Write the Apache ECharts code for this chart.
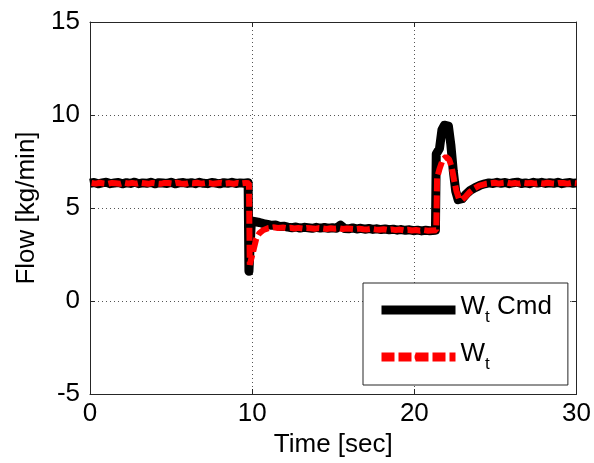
<!DOCTYPE html>
<html>
<head>
<meta charset="utf-8">
<script src="https://cdn.jsdelivr.net/npm/echarts@6/dist/echarts.min.js"></script>
<style>
  html, body { margin: 0; padding: 0; background: #fff; }
  #chart { width: 594px; height: 463px; }
</style>
</head>
<body>
<div id="chart"></div>
<script>
// Flow command (Wt Cmd) samples: time [sec] and flow [kg/min]
const cmdTime = [
  0, 0.25, 0.5, 0.75, 1, 1.25, 1.5, 1.75, 2, 2.25, 2.5, 2.75, 3, 3.25, 3.5, 3.75,
  4, 4.25, 4.5, 4.75, 5, 5.25, 5.5, 5.75, 6, 6.25, 6.5, 6.75, 7, 7.25, 7.5, 7.75,
  8, 8.25, 8.5, 8.75, 9, 9.25, 9.5, 9.75,
  9.8, 9.9, 9.95, 10.2, 10.45, 10.7, 10.95, 11.2, 11.45, 11.7, 11.95,
  12.2, 12.45, 12.7, 12.95, 13.2, 13.45, 13.7, 13.95, 14.2, 14.45, 14.7, 14.95,
  15.2, 15.45, 15.7, 15.95, 16.2, 16.45, 16.7, 16.95, 17.2, 17.45, 17.7, 17.95,
  18.2, 18.45, 18.7, 18.95, 19.2, 19.45, 19.7, 19.95, 20.2, 20.45, 20.7, 20.95,
  21.3, 21.35, 21.55, 21.7, 21.85, 22.1, 22.25, 22.4, 22.55, 22.7, 22.95,
  23.2, 23.45, 23.75, 24.05, 24.35,
  24.6, 24.85, 25.1, 25.35, 25.6, 25.85, 26.1, 26.35, 26.6, 26.85, 27.1, 27.35,
  27.6, 27.85, 28.1, 28.35, 28.6, 28.85, 29.1, 29.35, 29.6, 29.8, 30
];
const cmdFlow = [
  6.33, 6.37, 6.30, 6.35, 6.38, 6.31, 6.34, 6.37, 6.30, 6.36, 6.32, 6.39, 6.31, 6.35, 6.33, 6.38,
  6.30, 6.36, 6.34, 6.32, 6.38, 6.30, 6.35, 6.37, 6.32, 6.36, 6.31, 6.38, 6.33, 6.31, 6.37, 6.34,
  6.30, 6.36, 6.33, 6.38, 6.32, 6.35, 6.33, 6.36,
  1.6, 1.6, 4.3, 4.26, 4.22, 4.16, 4.12, 4.07, 4.08, 4.01, 4.02,
  3.97, 3.94, 3.98, 3.92, 3.96, 3.94, 3.91, 3.96, 3.92, 3.95, 3.91, 3.94,
  3.91, 4.08, 3.90, 3.88, 3.93, 3.87, 3.91, 3.86, 3.90, 3.85, 3.88, 3.84,
  3.87, 3.83, 3.86, 3.81, 3.84, 3.80, 3.83, 3.78, 3.81, 3.77, 3.80, 3.78,
  3.8, 7.9, 8.2, 9.2, 9.45, 9.4, 8.4, 7.0, 5.9, 5.45, 5.5,
  5.75, 5.95, 6.1, 6.22, 6.3,
  6.35, 6.32, 6.38, 6.33, 6.37, 6.31, 6.36, 6.39, 6.32, 6.35, 6.31, 6.38,
  6.34, 6.38, 6.32, 6.36, 6.33, 6.38, 6.31, 6.35, 6.37, 6.33, 6.35
];

// Measured flow (Wt) samples
const actTime = [
  0.1, 0.35, 0.6, 0.85, 1.1, 1.35, 1.6, 1.85, 2.1, 2.35, 2.6, 2.85, 3.1, 3.35, 3.6, 3.85,
  4.1, 4.35, 4.6, 4.85, 5.1, 5.35, 5.6, 5.85, 6.1, 6.35, 6.6, 6.85, 7.1, 7.35, 7.6, 7.85,
  8.1, 8.35, 8.6, 8.85, 9.1, 9.35, 9.6, 9.8,
  9.85, 9.95, 10.1, 10.25, 10.45, 10.7, 11.0, 11.3, 11.6, 11.9,
  12.1, 12.35, 12.6, 12.85, 13.1, 13.35, 13.6, 13.85, 14.1, 14.35, 14.6, 14.85,
  15.1, 15.35, 15.6, 15.85, 16.1, 16.35, 16.6, 16.85, 17.1, 17.35, 17.6, 17.85,
  18.1, 18.35, 18.6, 18.85, 19.1, 19.35, 19.6, 19.85, 20.1, 20.35, 20.6, 20.85, 21.05,
  21.35, 21.4, 21.55, 21.75, 21.95, 22.15, 22.3, 22.45, 22.6, 22.75, 22.95,
  23.15, 23.4, 23.7, 24.0, 24.4,
  24.7, 24.95, 25.2, 25.45, 25.7, 25.95, 26.2, 26.45, 26.7, 26.95, 27.2, 27.45,
  27.7, 27.95, 28.2, 28.45, 28.7, 28.95, 29.2, 29.45, 29.7, 30
];
const actFlow = [
  6.34, 6.31, 6.36, 6.32, 6.30, 6.35, 6.33, 6.30, 6.36, 6.32, 6.35, 6.31, 6.36, 6.33, 6.30, 6.35,
  6.32, 6.30, 6.35, 6.34, 6.31, 6.36, 6.32, 6.30, 6.35, 6.33, 6.36, 6.31, 6.34, 6.35, 6.30, 6.33,
  6.36, 6.32, 6.34, 6.30, 6.35, 6.32, 6.35, 6.33,
  1.95, 1.95, 2.8, 3.35, 3.65, 3.82, 3.92, 3.96, 3.93, 3.95,
  3.92, 3.94, 3.90, 3.93, 3.90, 3.93, 3.91, 3.88, 3.92, 3.90, 3.87, 3.91,
  3.89, 3.91, 3.87, 3.90, 3.88, 3.86, 3.89, 3.86, 3.85, 3.88, 3.85, 3.83,
  3.86, 3.82, 3.85, 3.81, 3.84, 3.80, 3.83, 3.79, 3.82, 3.78, 3.81, 3.78, 3.79,
  3.8, 6.6, 7.1, 7.6, 7.75, 7.6, 7.2, 6.5, 5.9, 5.5, 5.45,
  5.6, 5.85, 6.05, 6.2, 6.3,
  6.33, 6.36, 6.31, 6.35, 6.37, 6.32, 6.34, 6.31, 6.36, 6.33, 6.35, 6.31,
  6.35, 6.32, 6.36, 6.33, 6.31, 6.35, 6.34, 6.31, 6.35, 6.33
];

// Axis ticks
const xTicks = [0, 10, 20, 30];
const yTicks = [-5, 0, 5, 10, 15];

const seriesNames = ['Wt Cmd', 'Wt'];

const zip = (ts, vs) => ts.map((t, i) => [t, vs[i]]);

const FONT = '"Liberation Sans", Arial, sans-serif';
const AXIS_COLOR = '#262626';
const TEXT_SIZE = 26;

const xRange = { min: xTicks[0], max: xTicks[xTicks.length - 1], interval: xTicks[1] - xTicks[0] };
const yRange = { min: yTicks[0], max: yTicks[yTicks.length - 1], interval: yTicks[1] - yTicks[0] };

// Top/right axes only close the box and carry inward ticks
const boxAxis = {
  axisLine: { show: true, onZero: false, lineStyle: { color: AXIS_COLOR, width: 1 } },
  axisTick: { show: true, inside: true, length: 5, lineStyle: { color: AXIS_COLOR } },
  axisLabel: { show: false },
  splitLine: { show: false }
};

const gridLine = { show: true, lineStyle: { color: '#555', width: 1, type: [1, 3] } };

const chart = echarts.init(document.getElementById('chart'), null, { renderer: 'canvas' });

chart.setOption({
  backgroundColor: '#ffffff',
  animation: false,
  grid: { left: 90, right: 15, top: 22, bottom: 69, containLabel: false },
  xAxis: [
    {
      type: 'value', position: 'bottom', ...xRange,
      name: 'Time [sec]', nameLocation: 'middle', nameGap: 37,
      nameTextStyle: { fontFamily: FONT, fontSize: TEXT_SIZE, color: '#000' },
      axisLine: { show: true, onZero: false, lineStyle: { color: AXIS_COLOR, width: 1 } },
      axisTick: { show: true, inside: true, length: 5, lineStyle: { color: AXIS_COLOR } },
      axisLabel: { fontFamily: FONT, fontSize: TEXT_SIZE, color: '#000', margin: 7 },
      splitLine: gridLine
    },
    { type: 'value', position: 'top', ...xRange, ...boxAxis }
  ],
  yAxis: [
    {
      type: 'value', position: 'left', ...yRange,
      name: 'Flow [kg/min]', nameLocation: 'middle', nameGap: 48, nameRotate: 90,
      nameTextStyle: { fontFamily: FONT, fontSize: TEXT_SIZE, color: '#000' },
      axisLine: { show: true, onZero: false, lineStyle: { color: AXIS_COLOR, width: 1 } },
      axisTick: { show: true, inside: true, length: 5, lineStyle: { color: AXIS_COLOR } },
      axisLabel: { fontFamily: FONT, fontSize: TEXT_SIZE, color: '#000', margin: 10 },
      splitLine: gridLine
    },
    { type: 'value', position: 'right', ...yRange, ...boxAxis }
  ],
  legend: {
    orient: 'vertical',
    left: 363, top: 283,
    backgroundColor: '#ffffff',
    borderColor: AXIS_COLOR, borderWidth: 1,
    padding: [11, 16, 12, 14],
    itemGap: 15,
    itemWidth: 74, itemHeight: 10,
    selectedMode: false,
    data: seriesNames,
    lineStyle: { width: 9 },
    formatter: name => name === 'Wt Cmd' ? '{m|W}{s|t}{m| Cmd}' : '{m|W}{s|t}',
    textStyle: {
      fontFamily: FONT, color: '#000',
      rich: {
        m: { fontFamily: FONT, fontSize: TEXT_SIZE, color: '#000', verticalAlign: 'top', lineHeight: 32 },
        s: { fontFamily: FONT, fontSize: 17, color: '#000', verticalAlign: 'bottom', lineHeight: 32, padding: [14, 0, 0, 0] }
      }
    }
  },
  series: [
    {
      name: seriesNames[0], type: 'line',
      xAxisIndex: 0, yAxisIndex: 0,
      data: zip(cmdTime, cmdFlow),
      symbol: 'none', showSymbol: false,
      lineStyle: { color: '#000000', width: 9, join: 'round' },
      itemStyle: { color: '#000000' },
      z: 2
    },
    {
      name: seriesNames[1], type: 'line',
      xAxisIndex: 0, yAxisIndex: 0,
      data: zip(actTime, actFlow),
      symbol: 'none', showSymbol: false,
      lineStyle: { color: '#ff0000', width: 6, type: [13, 4], cap: 'butt' },
      itemStyle: { color: '#ff0000' },
      z: 3
    }
  ]
});
</script>
</body>
</html>
